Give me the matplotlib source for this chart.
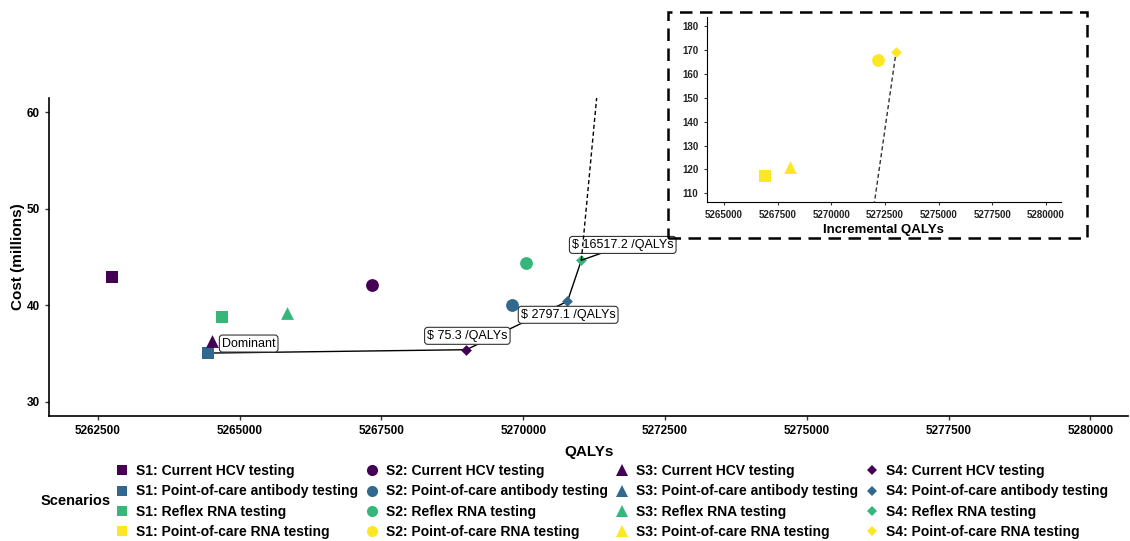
import matplotlib.pyplot as plt
from matplotlib.lines import Line2D
from matplotlib.patches import Rectangle
from matplotlib.ticker import ScalarFormatter, MultipleLocator

plt.rcParams['font.family'] = ['Liberation Sans', 'DejaVu Sans']

# data
scenarios = ['S1', 'S2', 'S3', 'S4']
strategies = ['Current HCV testing', 'Point-of-care antibody testing',
              'Reflex RNA testing', 'Point-of-care RNA testing']
qalys = {
    'S1': [5262741, 5264448, 5264688, 5266925],
    'S2': [5267331, 5269800, 5270053, 5272180],
    'S3': [5264518, 5265560, 5265833, 5268063],
    'S4': [5268996, 5270780, 5271025, 5273019],
}
costs = {
    'S1': [42.93, 35.03, 38.76, 117.1],
    'S2': [42.07, 40.03, 44.38, 165.6],
    'S3': [36.3, 36.0, 39.2, 121.0],
    'S4': [35.38, 40.4, 44.66, 169.1],
}
# efficiency frontier: (scenario, strategy index)
frontier = [('S1', 1), ('S4', 0), ('S4', 1), ('S4', 2)]
frontier_dashed = [('S4', 2), ('S4', 3)]
icer_labels = ['Dominant', '$ 75.3 /QALYs', '$ 2797.1 /QALYs', '$ 16517.2 /QALYs']
label_pos = [(5265158, 36.02), (5269014, 36.82), (5270792, 39.0), (5271755, 46.25)]

colors = ['#440154', '#31688E', '#35B779', '#FDE725']
markers = {'S1': 's', 'S2': 'o', 'S3': '^', 'S4': 'D'}
msize = {'S1': 75, 'S2': 85, 'S3': 85, 'S4': 30}

fig = plt.figure(figsize=(11.3, 5.41), dpi=100)
ax = fig.add_axes([0.0434, 0.231, 0.955, 0.588])

for sc in scenarios:
    for i in range(4):
        ax.scatter(qalys[sc][i], costs[sc][i], marker=markers[sc], s=msize[sc],
                   color=colors[i], linewidths=0, zorder=3)

fx = [qalys[s][i] for s, i in frontier]
fy = [costs[s][i] for s, i in frontier]
ax.plot(fx, fy, color='black', lw=1, zorder=2)
dx = [qalys[s][i] for s, i in frontier_dashed]
dy = [costs[s][i] for s, i in frontier_dashed]
ax.plot(dx, dy, color='black', lw=1, ls=(0, (3, 2)), zorder=6)
ax.plot([qalys['S4'][2], 5271454], [costs['S4'][2], 45.55], color='black', lw=1, zorder=4)

for txt, (lx, ly) in zip(icer_labels, label_pos):
    ax.text(lx, ly, txt, ha='center', va='center', fontsize=9, zorder=5,
            bbox=dict(boxstyle='round,pad=0.2,rounding_size=0.25', fc='white', ec='#333333', lw=0.8))

ax.set_xlim(5261637, 5280669)
ax.set_ylim(28.5, 61.5)
ax.set_xticks([5262500, 5265000, 5267500, 5270000, 5272500, 5275000, 5277500, 5280000])
ax.set_yticks([30, 40, 50, 60])
ax.xaxis.set_major_formatter(ScalarFormatter(useOffset=False))
ax.ticklabel_format(axis='x', style='plain', useOffset=False)
ax.spines['top'].set_visible(False)
ax.spines['right'].set_visible(False)
for sp in ['left', 'bottom']:
    ax.spines[sp].set_linewidth(1.2)
ax.tick_params(labelsize=8.5, width=1, length=3, colors='#333333', labelcolor='black')
for lab in ax.get_xticklabels() + ax.get_yticklabels():
    lab.set_fontweight('bold')
ax.set_xlabel('QALYs', fontsize=11, fontweight='bold', labelpad=6)
ax.set_ylabel('Cost (millions)', fontsize=11, fontweight='bold', labelpad=1)

# inset for the expensive strategies
ins = fig.add_axes([0.6254, 0.627, 0.3136, 0.341])
for sc in scenarios:
    ins.scatter(qalys[sc][3], costs[sc][3], marker=markers[sc], s=msize[sc],
                color=colors[3], linewidths=0, zorder=3)
ins.plot(dx, dy, color='#333333', lw=1, ls=(0, (3, 2)), zorder=2)
ins.set_xlim(5264193, 5280711)
ins.set_ylim(106.5, 183.6)
ins.xaxis.set_major_locator(MultipleLocator(2500))
ins.yaxis.set_major_locator(MultipleLocator(10))
ins.ticklabel_format(axis='x', style='plain', useOffset=False)
ins.spines['top'].set_visible(False)
ins.spines['right'].set_visible(False)
ins.tick_params(labelsize=7, width=0.8, length=2.5, colors='#333333', labelcolor='#222222')
for lab in ins.get_xticklabels() + ins.get_yticklabels():
    lab.set_fontweight('bold')
ins.set_xlabel('Incremental QALYs', fontsize=9.5, fontweight='bold', labelpad=3)

fig.patches.append(Rectangle((0.591, 0.560), 0.371, 0.418, transform=fig.transFigure,
                             fill=False, ec='black', lw=1.8, ls=(0, (5, 3))))

# legend
handles = []
lsize = {'S1': 7, 'S2': 8, 'S3': 8.5, 'S4': 5.5}
for sc in scenarios:
    for i, st in enumerate(strategies):
        handles.append(Line2D([], [], marker=markers[sc], ls='none', color=colors[i],
                              markersize=lsize[sc], markeredgewidth=0,
                              label=f'{sc}: {st}'))
leg = fig.legend(handles=handles, ncol=4, loc='center left', bbox_to_anchor=(0.097, 0.073),
                 frameon=False, fontsize=10, handlelength=1.0, handletextpad=0.5,
                 columnspacing=0.5, labelspacing=0.45, borderaxespad=0)
for t in leg.get_texts():
    t.set_fontweight('bold')
fig.text(0.067, 0.074, 'Scenarios', fontsize=10.5, fontweight='bold', ha='center', va='center')

fig.savefig('out.png', dpi=100)
